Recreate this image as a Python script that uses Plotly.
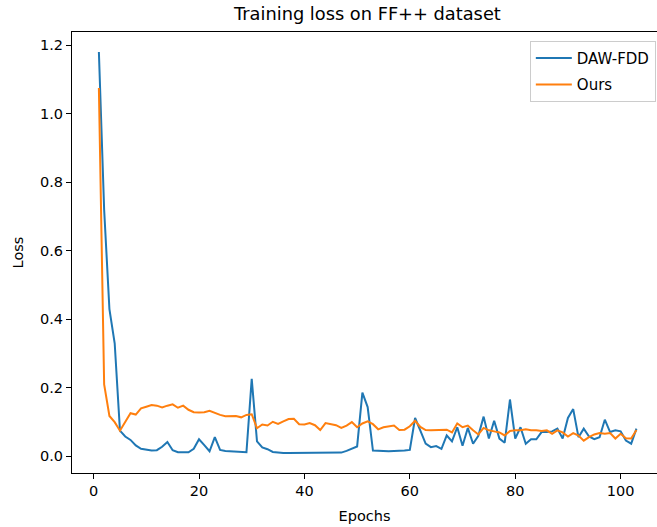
import plotly.graph_objects as go

epochs = list(range(1, 104))

daw_fdd = [
    1.18, 0.72, 0.43, 0.33, 0.075, 0.058, 0.048, 0.032, 0.022, 0.019,
    0.017, 0.018, 0.028, 0.042, 0.018, 0.012, 0.011, 0.012, 0.022, 0.050,
    0.033, 0.015, 0.056, 0.019, 0.016, 0.015, 0.013, 0.013, 0.012, 0.226,
    0.044, 0.026, 0.021, 0.013, 0.011, 0.010, 0.010, 0.010, 0.010, 0.010,
    0.010, 0.011, 0.010, 0.010, 0.010, 0.010, 0.011, 0.016, 0.022, 0.029,
    0.186, 0.144, 0.017, 0.016, 0.016, 0.015, 0.016, 0.016, 0.017, 0.019,
    0.112, 0.075, 0.037, 0.027, 0.030, 0.022, 0.061, 0.044, 0.085, 0.031,
    0.083, 0.037, 0.060, 0.116, 0.052, 0.104, 0.052, 0.040, 0.166, 0.052,
    0.085, 0.037, 0.050, 0.050, 0.071, 0.071, 0.073, 0.081, 0.052, 0.112,
    0.138, 0.056, 0.081, 0.058, 0.050, 0.056, 0.107, 0.071, 0.076, 0.073,
    0.046, 0.037, 0.081,
]

ours = [
    1.075, 0.21, 0.118, 0.100, 0.075, 0.101, 0.126, 0.122, 0.140, 0.145,
    0.150, 0.148, 0.143, 0.148, 0.152, 0.142, 0.148, 0.136, 0.129, 0.128,
    0.129, 0.133, 0.126, 0.121, 0.117, 0.117, 0.118, 0.114, 0.121, 0.123,
    0.082, 0.093, 0.090, 0.101, 0.095, 0.102, 0.109, 0.110, 0.094, 0.093,
    0.097, 0.091, 0.077, 0.097, 0.094, 0.091, 0.083, 0.090, 0.100, 0.085,
    0.096, 0.102, 0.094, 0.079, 0.085, 0.088, 0.090, 0.077, 0.078, 0.088,
    0.104, 0.086, 0.077, 0.076, 0.077, 0.078, 0.078, 0.070, 0.096, 0.085,
    0.090, 0.076, 0.064, 0.083, 0.076, 0.073, 0.070, 0.061, 0.074, 0.076,
    0.076, 0.079, 0.076, 0.076, 0.074, 0.076, 0.066, 0.076, 0.070, 0.058,
    0.068, 0.061, 0.046, 0.056, 0.064, 0.068, 0.066, 0.068, 0.052, 0.066,
    0.053, 0.052, 0.077,
]

x_ticks = [0, 20, 40, 60, 80, 100]
y_ticks = [0.0, 0.2, 0.4, 0.6, 0.8, 1.0, 1.2]
y_tick_labels = ["0.0", "0.2", "0.4", "0.6", "0.8", "1.0", "1.2"]

FONT = "DejaVu Sans"
FS = 14.5

fig = go.Figure()
fig.add_trace(go.Scatter(x=epochs, y=daw_fdd, mode="lines", name="DAW-FDD",
                         legendgroup="a", line=dict(color="#1f77b4", width=2)))
fig.add_trace(go.Scatter(x=epochs, y=ours, mode="lines", name="Ours",
                         legendgroup="b", line=dict(color="#ff7f0e", width=2)))

fig.update_layout(
    width=657, height=527,
    margin=dict(l=72, r=0, t=32, b=54, autoexpand=False),
    paper_bgcolor="white", plot_bgcolor="white",
    font=dict(family=FONT, size=FS, color="black"),
    title=dict(text="Training loss on FF++ dataset", font=dict(family=FONT, size=17.8, color="black"),
               x=0.505, xref="paper", y=1 - 14 / 527, yref="container",
               xanchor="center", yanchor="middle"),
    showlegend=True,
    legend=dict(x=0.998, y=0.98, xanchor="right", yanchor="top",
                bgcolor="rgba(255,255,255,0.8)", bordercolor="#cccccc", borderwidth=1,
                tracegroupgap=4, itemwidth=36, entrywidth=112, entrywidthmode="pixels",
                font=dict(family=FONT, size=15, color="black")),
)

fig.update_xaxes(range=[-4.1, 106.9], tickvals=x_ticks, ticks="outside", ticklen=5,
                 tickcolor="black", showline=True, linecolor="black", linewidth=1,
                 mirror=True, showgrid=False, zeroline=False, automargin=False,
                 title=dict(text="Epochs", standoff=12, font=dict(family=FONT, size=FS)))
fig.update_yaxes(range=[-0.0485, 1.2385], tickvals=y_ticks, ticktext=y_tick_labels,
                 ticks="outside", ticklen=5, tickcolor="black", showline=True,
                 linecolor="black", linewidth=1, mirror=False, showgrid=False, zeroline=False,
                 automargin=False,
                 title=dict(text="Loss", standoff=12, font=dict(family=FONT, size=FS)))

fig.write_html("out.html", config={"displayModeBar": False},
               post_script="document.body.style.margin='0';")
